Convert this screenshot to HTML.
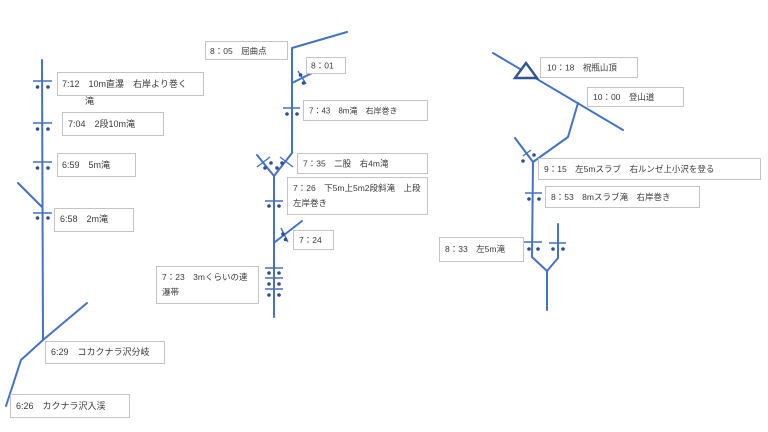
<!DOCTYPE html>
<html><head><meta charset="utf-8">
<style>
html,body{margin:0;padding:0;background:#fff;}
svg{display:block;}
text{font-family:"Liberation Sans","Noto Sans CJK JP",sans-serif;fill:#3a3a3a;}
.l{fill:none;stroke:#4472c4;stroke-width:2;stroke-linecap:round;stroke-linejoin:round;}
.t{fill:none;stroke:#4472c4;stroke-width:1.4;}
.b{fill:#fff;stroke:#c4c4c4;stroke-width:1;}
.d{fill:#2f4f90;}
</style></head>
<body>
<svg width="768" height="432" viewBox="0 0 768 432" xmlns="http://www.w3.org/2000/svg">
<rect width="768" height="432" fill="#fff"/>

<!-- LEFT STREAM -->
<polyline class="l" points="42,60 43,340"/>
<polyline class="l" points="18,183 42,207"/>
<polyline class="l" points="87,303 43,340 21,360 6,406"/>
<g class="t">
<line x1="33" y1="81" x2="52" y2="81"/>
<line x1="33" y1="123" x2="52" y2="123"/>
<line x1="33" y1="162" x2="52" y2="162"/>
<line x1="33" y1="213" x2="52" y2="213"/>
</g>
<g class="d">
<circle cx="37.5" cy="87" r="1.8"/><circle cx="48" cy="87" r="1.8"/>
<circle cx="37.5" cy="129" r="1.8"/><circle cx="48" cy="129" r="1.8"/>
<circle cx="37.5" cy="168" r="1.8"/><circle cx="48" cy="168" r="1.8"/>
<circle cx="37.5" cy="218" r="1.8"/><circle cx="48" cy="218" r="1.8"/>
</g>
<rect class="b" x="57.5" y="72.5" width="146" height="23"/>
<text x="62" y="87" font-size="9">7:12　10m直瀑　右岸より巻く</text>
<text x="85" y="104" font-size="9">滝</text>
<rect class="b" x="62.5" y="112.5" width="101" height="23"/>
<text x="68" y="127" font-size="9">7:04　2段10m滝</text>
<rect class="b" x="57.5" y="153.5" width="78" height="23"/>
<text x="62" y="168" font-size="9">6:59　5m滝</text>
<rect class="b" x="54.5" y="208.5" width="79" height="23"/>
<text x="60" y="222" font-size="9">6:58　2m滝</text>
<rect class="b" x="45.5" y="341.5" width="119" height="22"/>
<text x="51" y="355" font-size="9">6:29　コカクナラ沢分岐</text>
<rect class="b" x="10.5" y="394.5" width="119" height="23"/>
<text x="16" y="409" font-size="9">6:26　カクナラ沢入渓</text>

<!-- MIDDLE STREAM -->
<polyline class="l" points="347,32 292,48 292,153 274,176"/>
<polyline class="l" points="257,155 274,176 274,317"/>
<polyline class="l" points="275,242 302,221"/>
<polyline class="l" points="292,83 312,73"/>
<g class="t">
<line x1="298" y1="71" x2="306" y2="84"/>
<line x1="283" y1="108" x2="300" y2="108"/>
<line x1="257" y1="167" x2="270" y2="157"/>
<line x1="280" y1="157" x2="293" y2="167"/>
<line x1="265" y1="201" x2="283" y2="201"/>
<line x1="281" y1="228" x2="288" y2="242"/>
<line x1="265" y1="268" x2="283" y2="268"/>
<line x1="265" y1="278" x2="283" y2="278"/>
<line x1="265" y1="289" x2="283" y2="289"/>
</g>
<g class="d">
<circle cx="300.5" cy="75" r="1.8"/><circle cx="303.5" cy="83" r="1.8"/>
<circle cx="287" cy="114" r="1.8"/><circle cx="297" cy="114" r="1.8"/>
<circle cx="265" cy="168" r="1.8"/><circle cx="271" cy="163" r="1.8"/>
<circle cx="277" cy="168" r="1.8"/><circle cx="282" cy="163" r="1.8"/>
<circle cx="269" cy="206" r="1.8"/><circle cx="279" cy="206" r="1.8"/>
<circle cx="283" cy="234" r="1.8"/><circle cx="285.5" cy="239.5" r="1.8"/>
<circle cx="269" cy="273" r="1.8"/><circle cx="279" cy="273" r="1.8"/>
<circle cx="269" cy="284" r="1.8"/><circle cx="279" cy="284" r="1.8"/>
<circle cx="269" cy="295" r="1.8"/><circle cx="279" cy="295" r="1.8"/>
</g>
<rect class="b" x="205.5" y="41.5" width="82" height="18"/>
<text x="210" y="54" font-size="8.5">8：05　屈曲点</text>
<rect class="b" x="306.5" y="57.5" width="39" height="16"/>
<text x="311" y="68.5" font-size="8.5">8：01</text>
<rect class="b" x="303.5" y="100.5" width="124" height="20"/>
<text x="309" y="113.5" font-size="8">7：43　8m滝　右岸巻き</text>
<rect class="b" x="297.5" y="153.5" width="130" height="20"/>
<text x="303" y="166.5" font-size="8.5">7：35　二股　右4m滝</text>
<rect class="b" x="287.5" y="177.5" width="140" height="37"/>
<text x="293" y="191" font-size="8.5">7：26　下5m上5m2段斜滝　上段</text>
<text x="293" y="206" font-size="8.5">左岸巻き</text>
<rect class="b" x="293.5" y="230.5" width="40" height="19"/>
<text x="299" y="243" font-size="8.5">7：24</text>
<rect class="b" x="156.5" y="266.5" width="102" height="37"/>
<text x="162" y="280" font-size="8.5">7：23　3mくらいの連</text>
<text x="162" y="295" font-size="8.5">瀑帯</text>

<!-- RIGHT STREAM -->
<polyline class="l" points="493,53 623,130"/>
<polygon points="515,78 537,78 526,63" fill="#fff" stroke="#2f5597" stroke-width="2.4" stroke-linejoin="miter"/>
<polyline class="l" points="578,103 568,137 533,162"/>
<polyline class="l" points="515,138 533,162 532,257 547,271 547,310"/>
<polyline class="l" points="547,271 558,258 558,224"/>
<g class="t">
<line x1="523" y1="156" x2="531" y2="150"/>
<line x1="525" y1="193" x2="542" y2="193"/>
<line x1="524" y1="242" x2="542" y2="242"/>
<line x1="549" y1="243" x2="566" y2="243"/>
</g>
<g class="d">
<circle cx="523" cy="161" r="1.8"/><circle cx="534" cy="155" r="1.8"/>
<circle cx="529" cy="199" r="1.8"/><circle cx="539" cy="199" r="1.8"/>
<circle cx="529" cy="249" r="1.8"/><circle cx="538" cy="249" r="1.8"/>
<circle cx="553" cy="249" r="1.8"/><circle cx="563" cy="249" r="1.8"/>
</g>
<rect class="b" x="540.5" y="57.5" width="97" height="20"/>
<text x="547" y="70.5" font-size="8.5">10：18　祝瓶山頂</text>
<rect class="b" x="587.5" y="87.5" width="96" height="19"/>
<text x="593" y="100" font-size="8.5">10：00　登山道</text>
<rect class="b" x="538.5" y="158.5" width="222" height="21"/>
<text x="544" y="172" font-size="8.5">9：15　左5mスラブ　右ルンゼ上小沢を登る</text>
<rect class="b" x="545.5" y="186.5" width="154" height="21"/>
<text x="551" y="200" font-size="8.5">8：53　8mスラブ滝　右岸巻き</text>
<rect class="b" x="439.5" y="237.5" width="84" height="24"/>
<text x="445" y="252" font-size="8.5">8：33　左5m滝</text>
</svg>
</body></html>
